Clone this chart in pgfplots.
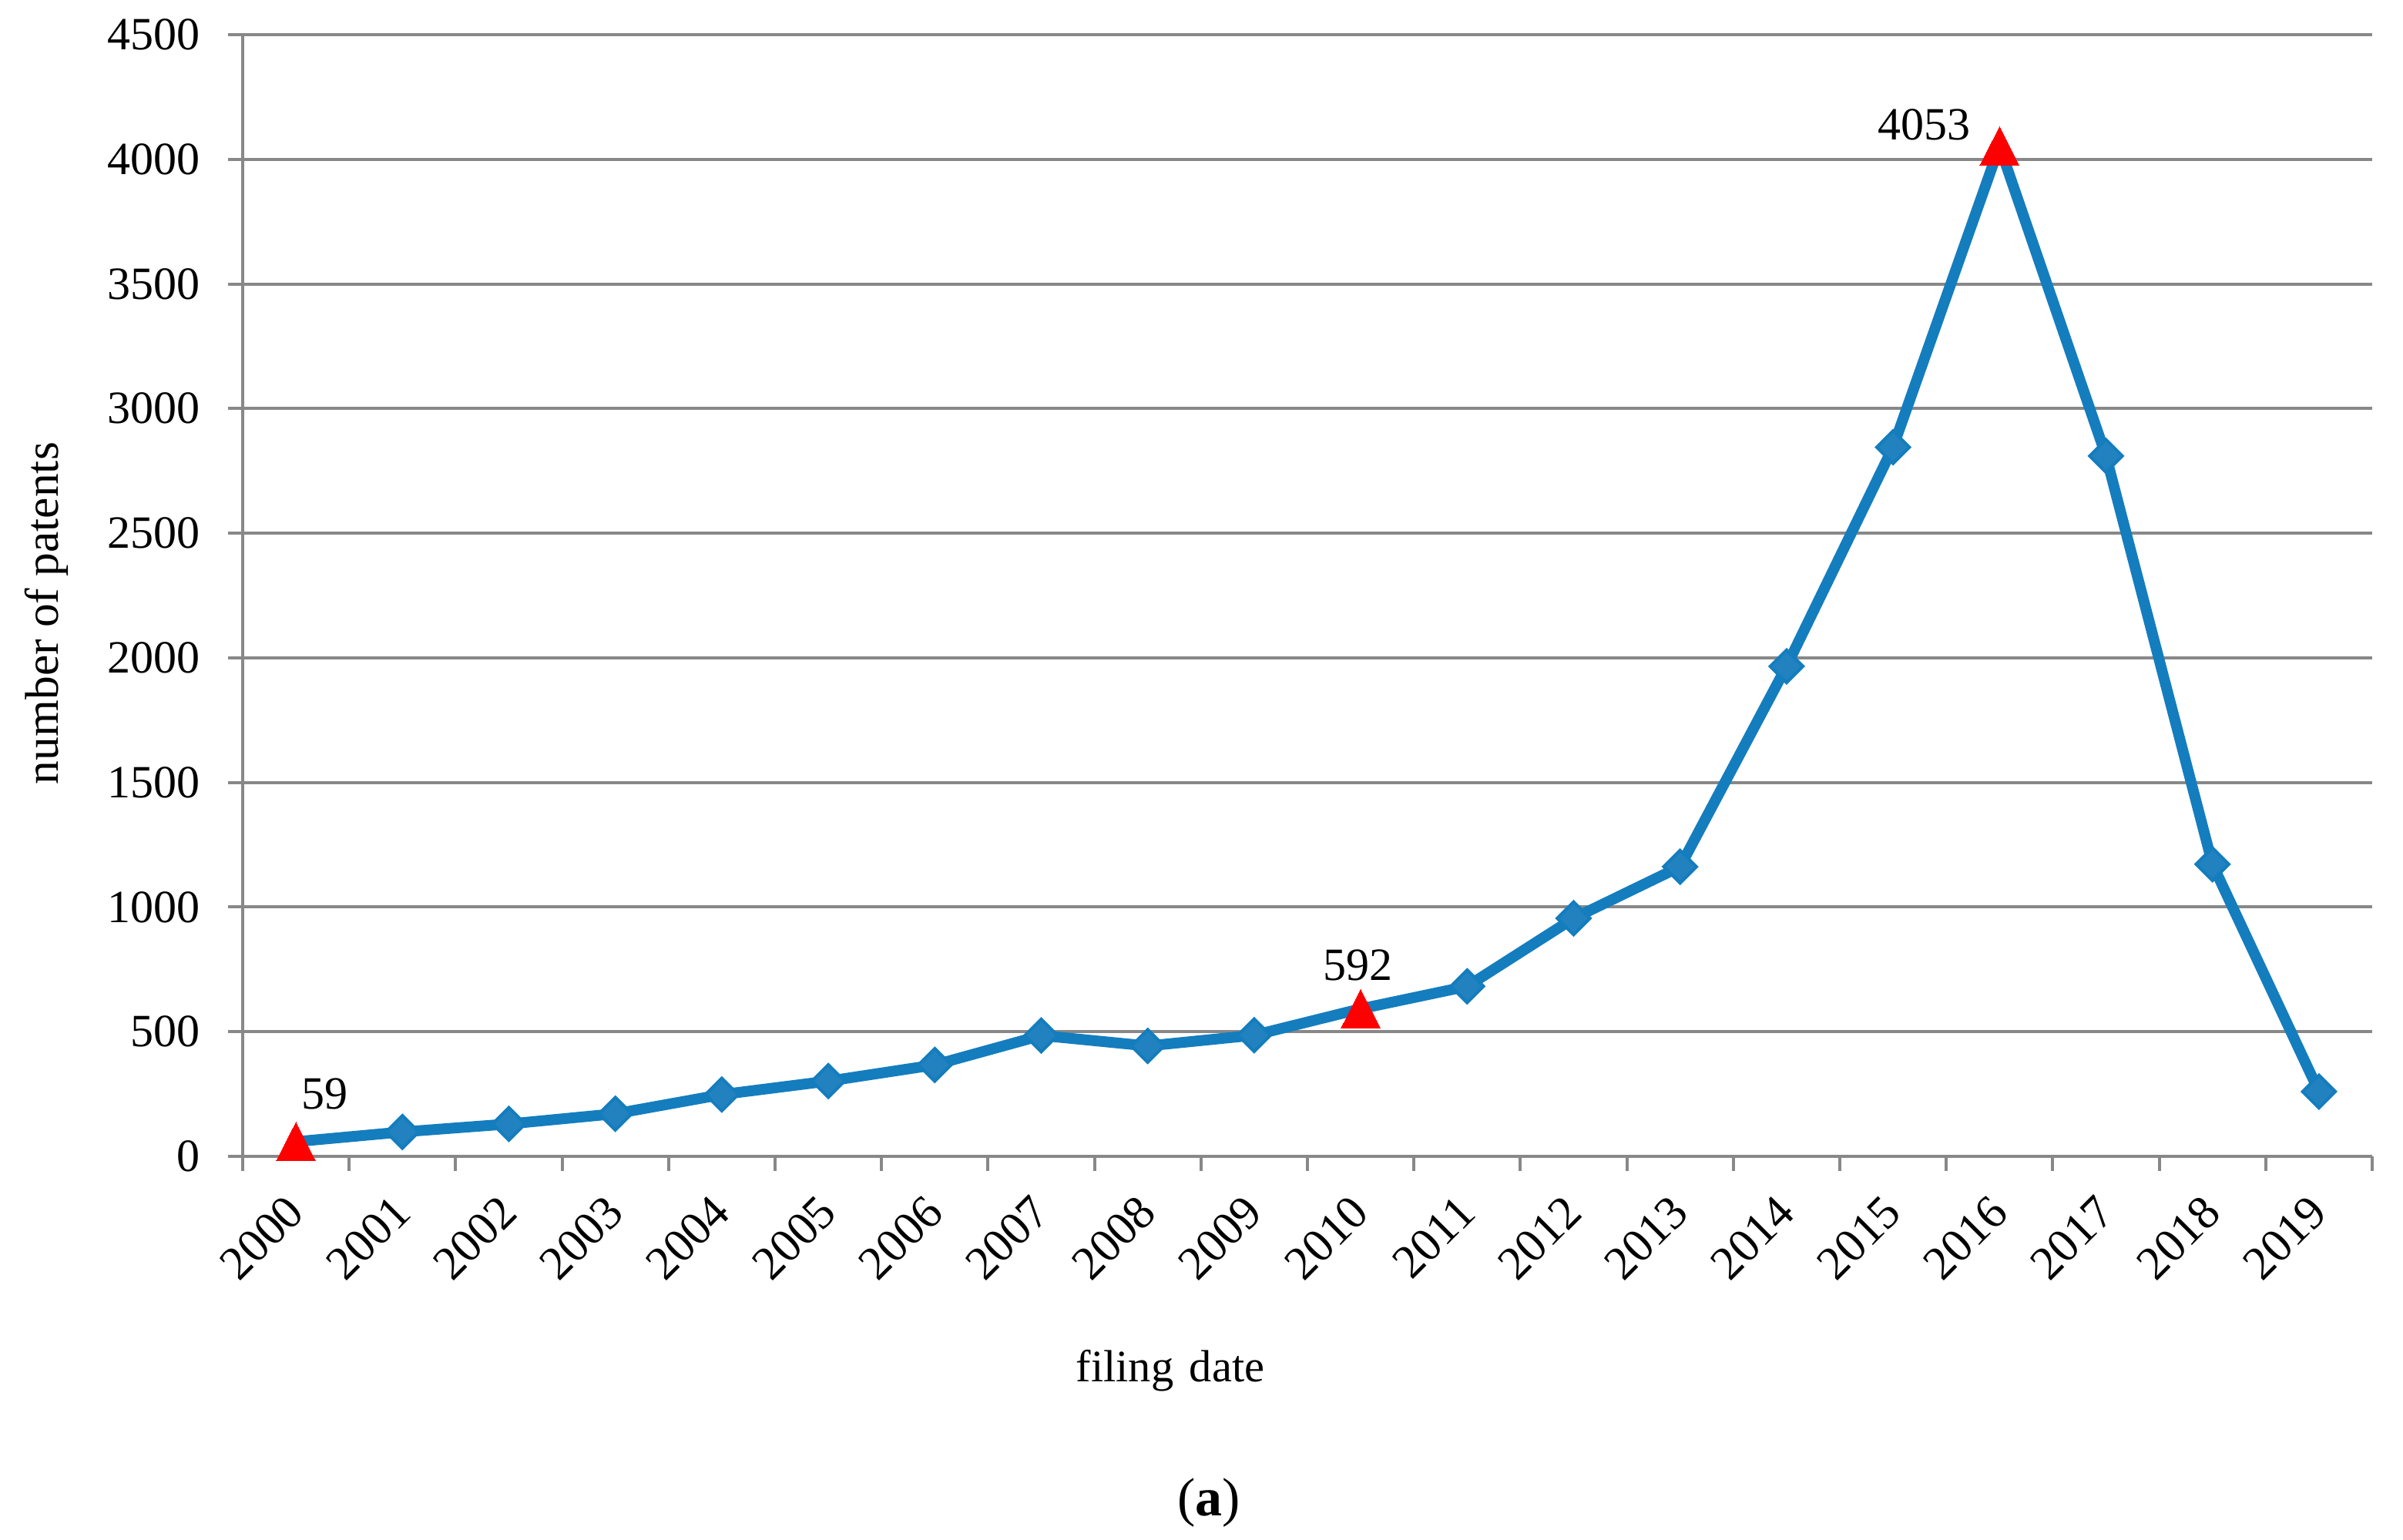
\documentclass[border=0pt]{standalone}
\usepackage{fontspec}
\setmainfont{Liberation Serif}
\usepackage{pgfplots}
\usepackage{pgfplotstable}
\pgfplotsset{compat=1.18}
\definecolor{gridgray}{RGB}{136,136,136}
\definecolor{lineblue}{RGB}{20,125,190}
\definecolor{markblue}{RGB}{34,130,192}
\pgfplotstableread{
x y
0 59
1 98
2 130
3 171
4 248
5 302
6 367
7 485
8 443
9 486
10 592
11 682
12 955
13 1162
14 1966
15 2845
16 4053
17 2810
18 1172
19 260
}\alldata
\pgfplotstableread{
x y
1 98
2 130
3 171
4 248
5 302
6 367
7 485
8 443
9 486
11 682
12 955
13 1162
14 1966
15 2845
17 2810
18 1172
19 260
}\diamonddata
\pgfplotstableread{
x y
0 59
10 592
16 4053
}\peakdata
\begin{document}
\begin{tikzpicture}
\useasboundingbox (-63pt,-99.4pt) rectangle (560.8pt,300.2pt);
\begin{axis}[
  at={(0pt,0pt)}, anchor=south west,
  scale only axis,
  width=552.8pt, height=291.2pt,
  xmin=-0.5, xmax=19.5,
  ymin=0, ymax=4500,
  ytick={0,500,...,4500},
  xtick={0,...,19},
  xticklabels={2000,2001,2002,2003,2004,2005,2006,2007,2008,2009,2010,2011,2012,2013,2014,2015,2016,2017,2018,2019},
  minor xtick={-0.5,0.5,...,19.5},
  axis lines*=left,
  axis line style={draw=gridgray, line width=0.8pt},
  tick align=outside,
  major tick length=3.8pt,
  minor tick length=3.8pt,
  tick style={draw=gridgray, line width=0.8pt},
  major x tick style={draw=none},
  ymajorgrids,
  grid style={draw=gridgray, line width=0.8pt},
  /pgf/number format/1000 sep={},
  /pgf/number format/assume math mode=true,
  yticklabel style={font=\fontsize{12}{14}\selectfont, inner sep=0pt, xshift=-7pt},
  xticklabel style={font=\fontsize{12.3}{14}\selectfont, inner sep=0pt, yshift=-8.5pt, rotate=45, anchor=east},
  clip=false,
]
\addplot[draw=lineblue, line width=2.8pt, line join=round, mark=none] table[x=x,y=y] {\alldata};
\addplot[only marks, mark=square*, mark size=3.0pt, color=lineblue,
  mark options={rotate=45, draw=lineblue, fill=markblue, line width=0.8pt}] table[x=x,y=y] {\diamonddata};
\addplot[only marks, mark=triangle*, mark size=6.67pt, color=red,
  mark options={xscale=0.88, yshift=-1.67pt, fill=red, draw=red, line width=0pt}] table[x=x,y=y] {\peakdata};
\node[anchor=base, font=\fontsize{12}{14}\selectfont, xshift=7.4pt, yshift=8.4pt] at (axis cs:0,59) {59};
\node[anchor=base, font=\fontsize{12}{14}\selectfont, xshift=-0.8pt, yshift=7.3pt] at (axis cs:10,592) {592};
\node[anchor=base, font=\fontsize{12}{14}\selectfont, xshift=-19.6pt, yshift=1.6pt] at (axis cs:16,4053) {4053};
\end{axis}
\node[anchor=base, font=\fontsize{11.7}{14}\selectfont] at (240.8pt,-58.4pt) {filing\hspace{0.35em}date};
\node[rotate=90, font=\fontsize{12.3}{14}\selectfont] at (-51pt,141pt) {number of patents};
\node[anchor=base, font=\fontsize{14}{16}\selectfont] at (250.8pt,-93.2pt) {(\textbf{a})};
\end{tikzpicture}
\end{document}
